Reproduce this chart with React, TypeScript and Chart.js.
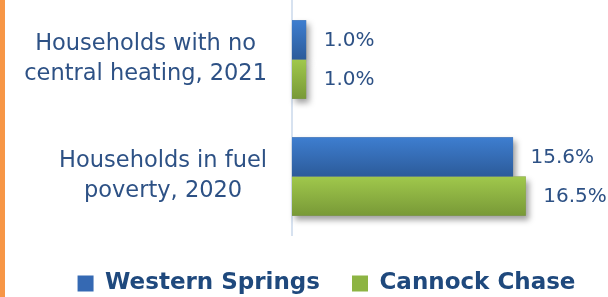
import React, { useEffect, useRef } from "react";
import { Chart, registerables } from "chart.js";

Chart.register(...registerables);

// ---- data ----
const categories: string[][] = [
  ["Households with no", "central heating, 2021"],
  ["Households in fuel", "poverty, 2020"],
];
const seriesNames = ["Western Springs", "Cannock Chase"];
const westernSprings = [1.0, 15.6];
const cannockChase = [1.0, 16.5];
const X_MIN = 0;
const X_MAX = 22.3;

// ---- styles ----
const FONT = "'DejaVu Sans', sans-serif";
const LABEL_COLOR = "#2D5185";
const LEGEND_COLOR = "#1F497D";
const GRADIENTS: [string, string][] = [
  ["#3E7ED0", "#2C5B9A"],
  ["#A0C84C", "#789937"],
];
const SOLID = ["#3569B3", "#8DB443"];

const bgPlugin = {
  id: "bgPlugin",
  beforeDraw(chart: any) {
    const ctx = chart.ctx;
    ctx.save();
    ctx.fillStyle = "#ffffff";
    ctx.fillRect(0, 0, chart.width, chart.height);
    ctx.fillStyle = "#F79646";
    ctx.fillRect(0, 0, 5, chart.height);
    ctx.restore();
  },
};

const barStylePlugin = {
  id: "barStylePlugin",
  afterDatasetsUpdate(chart: any) {
    const ctx = chart.ctx;
    chart.data.datasets.forEach((_ds: any, di: number) => {
      const meta = chart.getDatasetMeta(di);
      const [c1, c2] = GRADIENTS[di];
      meta.data.forEach((el: any) => {
        const { y, height } = el.getProps(["y", "height"], true);
        const g = ctx.createLinearGradient(0, y - height / 2, 0, y + height / 2);
        g.addColorStop(0, c1);
        g.addColorStop(1, c2);
        el.options = { ...el.options, backgroundColor: g };
      });
    });
  },
  beforeDatasetsDraw(chart: any) {
    const ctx = chart.ctx;
    ctx.save();
    ctx.shadowColor = "rgba(0,0,0,0.38)";
    ctx.shadowBlur = 6;
    ctx.shadowOffsetX = 3;
    ctx.shadowOffsetY = 4;
    ctx.fillStyle = "#888";
    chart.data.datasets.forEach((_ds: any, di: number) => {
      const meta = chart.getDatasetMeta(di);
      meta.data.forEach((el: any) => {
        const { x, y, base, height } = el.getProps(["x", "y", "base", "height"], true);
        const left = Math.min(x, base);
        ctx.fillRect(left, y - height / 2, Math.abs(x - base), height);
      });
    });
    ctx.restore();
  },
  afterDatasetsDraw(chart: any) {
    const ctx = chart.ctx;
    ctx.save();
    ctx.font = `20px ${FONT}`;
    ctx.fillStyle = LABEL_COLOR;
    ctx.textAlign = "left";
    ctx.textBaseline = "middle";
    chart.data.datasets.forEach((ds: any, di: number) => {
      const meta = chart.getDatasetMeta(di);
      meta.data.forEach((el: any, i: number) => {
        const v = ds.data[i] as number;
        ctx.fillText(`${v.toFixed(1)}%`, el.x + 17.5, el.y + 1);
      });
    });
    ctx.restore();
  },
};

const categoryLabelPlugin = {
  id: "categoryLabelPlugin",
  afterDraw(chart: any) {
    const ctx = chart.ctx;
    const yScale = chart.scales.y;
    const rightEdge = 267;
    const lineH = 30;
    ctx.save();
    ctx.font = `22.5px ${FONT}`;
    ctx.fillStyle = LABEL_COLOR;
    ctx.textAlign = "center";
    ctx.textBaseline = "middle";
    (chart.data.labels as string[][]).forEach((lines, i) => {
      const cy = yScale.getPixelForValue(i);
      const maxW = Math.max(...lines.map((l) => ctx.measureText(l).width));
      const cx = rightEdge - maxW / 2;
      lines.forEach((l, j) => {
        ctx.fillText(l, cx, cy + (j - (lines.length - 1) / 2) * lineH);
      });
    });
    ctx.restore();
  },
};

export default function App() {
  const ref = useRef<HTMLCanvasElement | null>(null);

  useEffect(() => {
    if (!ref.current) return;
    const chart = new Chart(ref.current, {
      type: "bar",
      data: {
        labels: categories as any,
        datasets: [
          {
            label: seriesNames[0],
            data: westernSprings,
            backgroundColor: SOLID[0],
            borderWidth: 0,
            categoryPercentage: 0.672,
            barPercentage: 1,
          },
          {
            label: seriesNames[1],
            data: cannockChase,
            backgroundColor: SOLID[1],
            borderWidth: 0,
            categoryPercentage: 0.672,
            barPercentage: 1,
          },
        ],
      },
      options: {
        indexAxis: "y",
        responsive: false,
        animation: false,
        layout: { padding: { left: 45, right: 0, top: 1, bottom: 0 } },
        scales: {
          x: {
            display: true,
            min: X_MIN,
            max: X_MAX,
            grid: { display: false },
            ticks: { display: false },
            border: { display: false },
            afterFit: (scale: any) => {
              scale.height = 5;
            },
          },
          y: {
            grid: { display: false },
            ticks: { display: false },
            border: { display: true, color: "#D7E2F0", width: 2 },
            afterFit: (scale: any) => {
              scale.width = 247;
            },
          },
        },
        plugins: {
          tooltip: { enabled: false },
          legend: {
            position: "bottom",
            align: "center",
            labels: {
              boxWidth: 16,
              boxHeight: 16,
              padding: 32,
              color: LEGEND_COLOR,
              font: { family: FONT, size: 23, weight: "bold" },
            },
          },
        },
      },
      plugins: [bgPlugin, barStylePlugin, categoryLabelPlugin],
    } as any);
    return () => chart.destroy();
  }, []);

  return (
    <div
      style={{
        position: "absolute",
        left: 0,
        top: 0,
        width: 608,
        height: 297,
        overflow: "hidden",
        background: "#fff",
      }}
    >
      <canvas ref={ref} width={608} height={305} style={{ display: "block" }} />
    </div>
  );
}
